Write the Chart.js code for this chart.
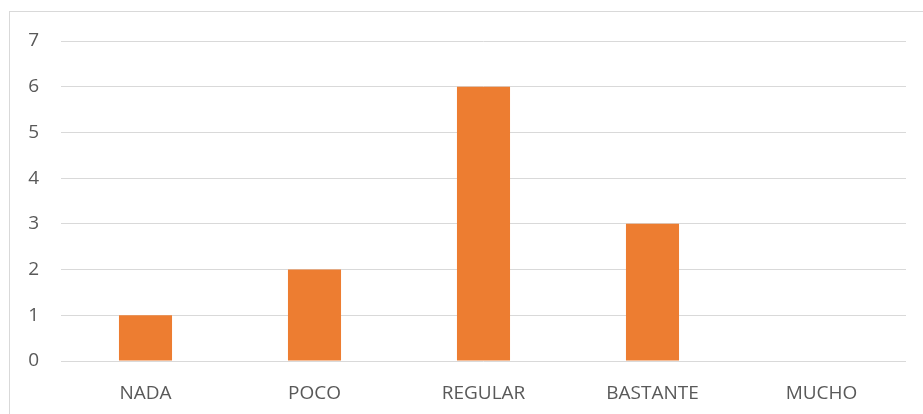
<!DOCTYPE html>
<html><head><meta charset="utf-8">
<script src="https://cdn.jsdelivr.net/npm/chart.js@4"></script>
<style>
html,body{margin:0;padding:0;background:#fff;overflow:hidden;}
#frame{position:absolute;left:9px;top:11px;width:1000px;height:1000px;border:1px solid #d9d9d9;box-sizing:border-box;}
#wrap{position:absolute;left:0;top:0;width:923px;height:414px;}
</style></head>
<body>
<div id="frame"></div>
<div id="wrap"><canvas id="c" width="923" height="414"></canvas></div>
<script>
const categories = ["NADA","POCO","REGULAR","BASTANTE","MUCHO"];
const values = [1,2,6,3,0];
const yTicks = [0,1,2,3,4,5,6,7];

new Chart(document.getElementById('c'), {
  type: 'bar',
  data: { labels: categories, datasets: [{ data: values, backgroundColor: '#ED7D31', barPercentage: 0.314, categoryPercentage: 1 }] },
  options: {
    responsive: false, animation: false,
    layout: { padding: { top: 41, right: 17, left: 0, bottom: 0 } },
    plugins: { legend: { display: false }, tooltip: { enabled: false } },
    scales: {
      x: {
        grid: { display: false, drawTicks: false },
        border: { display: false },
        ticks: { color: '#595959', font: { family: 'Open Sans', size: 19 }, padding: 21 },
        afterFit(s) { s.height = 53; }
      },
      y: {
        min: 0, max: 7,
        afterBuildTicks(s) { s.ticks = yTicks.map(v => ({ value: v })); },
        grid: { color: '#d9d9d9', lineWidth: 1, drawTicks: false },
        border: { display: false },
        ticks: { color: '#595959', font: { family: 'Open Sans', size: 19 }, padding: 22 },
        afterFit(s) { s.width = 61; }
      }
    }
  }
});
</script>
</body></html>
